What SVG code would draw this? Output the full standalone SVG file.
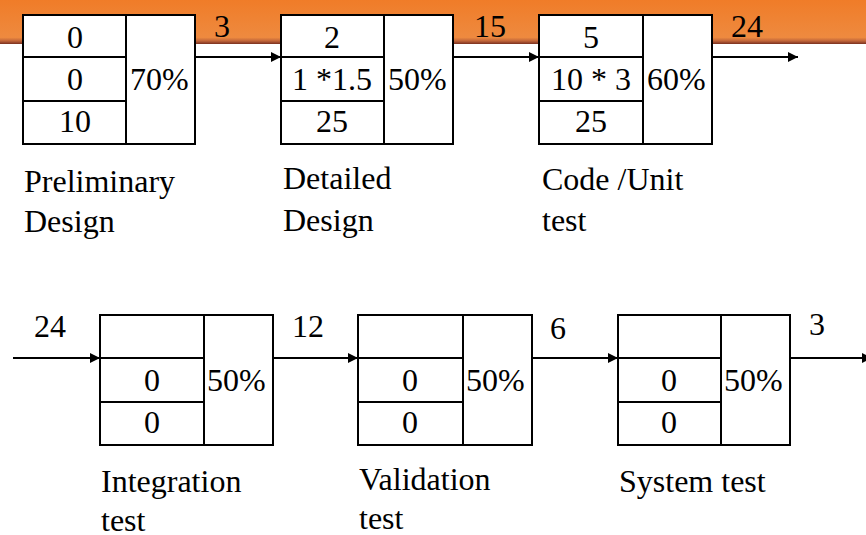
<svg xmlns="http://www.w3.org/2000/svg" width="866" height="535" viewBox="0 0 866 535">
<defs>
<linearGradient id="band" x1="0" y1="0" x2="0" y2="1">
<stop offset="0" stop-color="#F07C28"/>
<stop offset="0.85" stop-color="#EE8A3F"/>
<stop offset="0.93" stop-color="#C0653A"/>
<stop offset="1" stop-color="#7A3020"/>
</linearGradient>
<marker id="arr" viewBox="0 0 10 10" refX="10" refY="5" markerWidth="10" markerHeight="10" markerUnits="userSpaceOnUse" orient="auto">
<path d="M0,0 L10,5 L0,10 Z" fill="#000"/>
</marker>
<style>
.box{fill:#fff;stroke:#000;stroke-width:2}
.ln{stroke:#000;stroke-width:2;fill:none}
.t{font-family:'Liberation Serif','DejaVu Serif',serif;font-size:32px;fill:#000}
.c{text-anchor:middle}
.conn{stroke:#000;stroke-width:2;fill:none;marker-end:url(#arr)}
</style>
</defs>
<rect x="0" y="0" width="866" height="44" fill="url(#band)"/>
<rect x="0" y="44" width="866" height="491" fill="#fff"/>

<g id="connectors">
<line class="conn" x1="195" y1="57" x2="281" y2="57"/>
<line class="conn" x1="453" y1="57" x2="539" y2="57"/>
<line class="conn" x1="712" y1="57" x2="798" y2="57"/>
<line class="conn" x1="13" y1="358" x2="100" y2="358"/>
<line class="conn" x1="273" y1="358" x2="358" y2="358"/>
<line class="conn" x1="532" y1="358" x2="618" y2="358"/>
<line class="conn" x1="790" y1="358" x2="872" y2="358"/>
<text class="t c" x="222" y="37" font-family="Liberation Serif, serif">3</text>
<text class="t c" x="490" y="37">15</text>
<text class="t c" x="747" y="37">24</text>
<text class="t c" x="50" y="337">24</text>
<text class="t c" x="308" y="337">12</text>
<text class="t c" x="558" y="339">6</text>
<text class="t c" x="817" y="335">3</text>
</g>

<g id="prelim">
<rect class="box" x="23" y="15" width="172" height="129"/>
<line class="ln" x1="126" y1="15" x2="126" y2="144"/>
<line class="ln" x1="23" y1="57" x2="126" y2="57"/>
<line class="ln" x1="23" y1="101" x2="126" y2="101"/>
<text class="t c" x="75" y="48">0</text>
<text class="t c" x="75" y="90">0</text>
<text class="t c" x="75" y="132">10</text>
<text class="t" x="130" y="90">70%</text>
<text class="t" x="24" y="192">Preliminary</text>
<text class="t" x="24" y="232">Design</text>
</g>

<g id="detailed">
<rect class="box" x="281" y="15" width="172" height="129"/>
<line class="ln" x1="384" y1="15" x2="384" y2="144"/>
<line class="ln" x1="281" y1="57" x2="384" y2="57"/>
<line class="ln" x1="281" y1="101" x2="384" y2="101"/>
<text class="t c" x="332" y="48">2</text>
<text class="t c" x="332" y="90">1 *1.5</text>
<text class="t c" x="332" y="132">25</text>
<text class="t" x="388" y="90">50%</text>
<text class="t" x="283" y="189">Detailed</text>
<text class="t" x="283" y="231">Design</text>
</g>

<g id="code">
<rect class="box" x="539" y="15" width="173" height="129"/>
<line class="ln" x1="643" y1="15" x2="643" y2="144"/>
<line class="ln" x1="539" y1="57" x2="643" y2="57"/>
<line class="ln" x1="539" y1="101" x2="643" y2="101"/>
<text class="t c" x="591" y="48">5</text>
<text class="t c" x="591" y="90">10 * 3</text>
<text class="t c" x="591" y="132">25</text>
<text class="t" x="647" y="90">60%</text>
<text class="t" x="542" y="190">Code /Unit</text>
<text class="t" x="542" y="231">test</text>
</g>

<g id="integration">
<rect class="box" x="100" y="315" width="173" height="130"/>
<line class="ln" x1="204" y1="315" x2="204" y2="445"/>
<line class="ln" x1="100" y1="358" x2="204" y2="358"/>
<line class="ln" x1="100" y1="402" x2="204" y2="402"/>
<text class="t c" x="152" y="391">0</text>
<text class="t c" x="152" y="433">0</text>
<text class="t" x="207" y="391">50%</text>
<text class="t" x="101" y="492">Integration</text>
<text class="t" x="101" y="531">test</text>
</g>

<g id="validation">
<rect class="box" x="358" y="315" width="174" height="130"/>
<line class="ln" x1="463" y1="315" x2="463" y2="445"/>
<line class="ln" x1="358" y1="358" x2="463" y2="358"/>
<line class="ln" x1="358" y1="402" x2="463" y2="402"/>
<text class="t c" x="410" y="391">0</text>
<text class="t c" x="410" y="433">0</text>
<text class="t" x="466" y="391">50%</text>
<text class="t" x="359" y="490">Validation</text>
<text class="t" x="359" y="529">test</text>
</g>

<g id="system">
<rect class="box" x="618" y="315" width="172" height="130"/>
<line class="ln" x1="721" y1="315" x2="721" y2="445"/>
<line class="ln" x1="618" y1="358" x2="721" y2="358"/>
<line class="ln" x1="618" y1="402" x2="721" y2="402"/>
<text class="t c" x="669" y="391">0</text>
<text class="t c" x="669" y="433">0</text>
<text class="t" x="724" y="391">50%</text>
<text class="t" x="619" y="492">System test</text>
</g>
</svg>
